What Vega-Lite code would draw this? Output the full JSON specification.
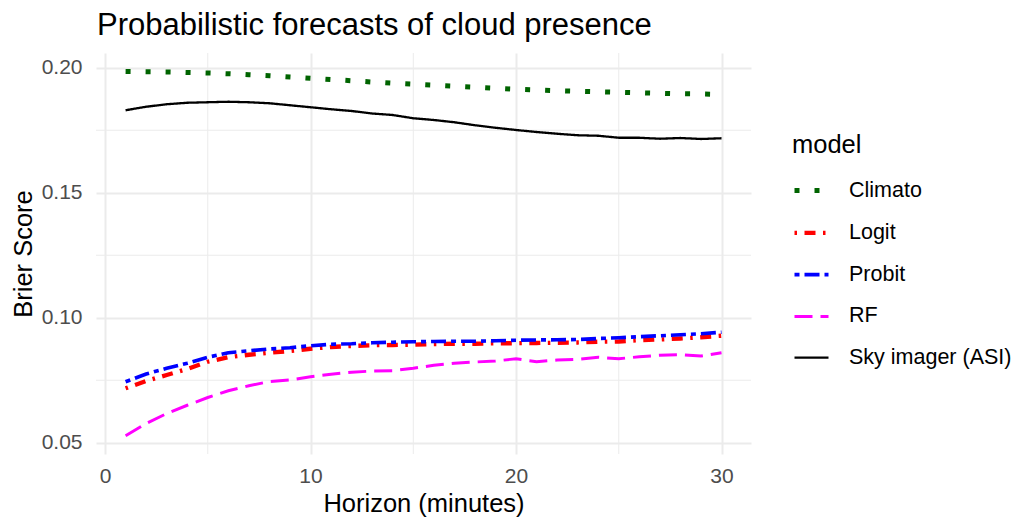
{
  "$schema": "https://vega.github.io/schema/vega-lite/v6.json",
  "autosize": {"type": "none"},
  "width": 655,
  "height": 401,
  "padding": {"left": 96, "top": 53, "right": 262, "bottom": 63},
  "background": "white",
  "config": {
    "view": {"stroke": null},
    "font": "Liberation Sans",
    "axis": {"domain": false, "ticks": false, "gridColor": "#EBEBEB", "gridWidth": 2, "labelColor": "#4D4D4D", "labelFontSize": 21, "titleFontSize": 25.5, "titleFontWeight": "normal", "titleColor": "black"}
  },
  "title": {"text": "Probabilistic forecasts of cloud presence", "anchor": "start", "frame": "group", "fontSize": 31, "fontWeight": "normal", "color": "black", "baseline": "alphabetic", "offset": 20, "dx": 1, "dy": 33},
  "datasets": {
    "scores": [
      {"h": 1, "model": "Climato", "brier": 0.1985}, {"h": 2, "model": "Climato", "brier": 0.1984}, {"h": 3, "model": "Climato", "brier": 0.1983}, {"h": 4, "model": "Climato", "brier": 0.1981}, {"h": 5, "model": "Climato", "brier": 0.1979}, {"h": 6, "model": "Climato", "brier": 0.1976}, {"h": 7, "model": "Climato", "brier": 0.1972}, {"h": 8, "model": "Climato", "brier": 0.1968}, {"h": 9, "model": "Climato", "brier": 0.1963}, {"h": 10, "model": "Climato", "brier": 0.1958}, {"h": 11, "model": "Climato", "brier": 0.1953}, {"h": 12, "model": "Climato", "brier": 0.1948}, {"h": 13, "model": "Climato", "brier": 0.1943}, {"h": 14, "model": "Climato", "brier": 0.1938}, {"h": 15, "model": "Climato", "brier": 0.1934}, {"h": 16, "model": "Climato", "brier": 0.1930}, {"h": 17, "model": "Climato", "brier": 0.1926}, {"h": 18, "model": "Climato", "brier": 0.1922}, {"h": 19, "model": "Climato", "brier": 0.1918}, {"h": 20, "model": "Climato", "brier": 0.1914}, {"h": 21, "model": "Climato", "brier": 0.1911}, {"h": 22, "model": "Climato", "brier": 0.1908}, {"h": 23, "model": "Climato", "brier": 0.1906}, {"h": 24, "model": "Climato", "brier": 0.1904}, {"h": 25, "model": "Climato", "brier": 0.1902}, {"h": 26, "model": "Climato", "brier": 0.1900}, {"h": 27, "model": "Climato", "brier": 0.1898}, {"h": 28, "model": "Climato", "brier": 0.1896}, {"h": 29, "model": "Climato", "brier": 0.1895}, {"h": 30, "model": "Climato", "brier": 0.1893},
      {"h": 1, "model": "Logit", "brier": 0.0718}, {"h": 2, "model": "Logit", "brier": 0.0747}, {"h": 3, "model": "Logit", "brier": 0.0771}, {"h": 4, "model": "Logit", "brier": 0.0795}, {"h": 5, "model": "Logit", "brier": 0.0824}, {"h": 6, "model": "Logit", "brier": 0.0842}, {"h": 7, "model": "Logit", "brier": 0.0852}, {"h": 8, "model": "Logit", "brier": 0.0860}, {"h": 9, "model": "Logit", "brier": 0.0867}, {"h": 10, "model": "Logit", "brier": 0.0876}, {"h": 11, "model": "Logit", "brier": 0.0883}, {"h": 12, "model": "Logit", "brier": 0.0887}, {"h": 13, "model": "Logit", "brier": 0.0890}, {"h": 14, "model": "Logit", "brier": 0.0891}, {"h": 15, "model": "Logit", "brier": 0.0892}, {"h": 16, "model": "Logit", "brier": 0.0895}, {"h": 17, "model": "Logit", "brier": 0.0896}, {"h": 18, "model": "Logit", "brier": 0.0896}, {"h": 19, "model": "Logit", "brier": 0.0898}, {"h": 20, "model": "Logit", "brier": 0.0898}, {"h": 21, "model": "Logit", "brier": 0.0899}, {"h": 22, "model": "Logit", "brier": 0.0900}, {"h": 23, "model": "Logit", "brier": 0.0901}, {"h": 24, "model": "Logit", "brier": 0.0904}, {"h": 25, "model": "Logit", "brier": 0.0905}, {"h": 26, "model": "Logit", "brier": 0.0910}, {"h": 27, "model": "Logit", "brier": 0.0913}, {"h": 28, "model": "Logit", "brier": 0.0917}, {"h": 29, "model": "Logit", "brier": 0.0922}, {"h": 30, "model": "Logit", "brier": 0.0928},
      {"h": 1, "model": "Probit", "brier": 0.0744}, {"h": 2, "model": "Probit", "brier": 0.0775}, {"h": 3, "model": "Probit", "brier": 0.0798}, {"h": 4, "model": "Probit", "brier": 0.0818}, {"h": 5, "model": "Probit", "brier": 0.0842}, {"h": 6, "model": "Probit", "brier": 0.0860}, {"h": 7, "model": "Probit", "brier": 0.0868}, {"h": 8, "model": "Probit", "brier": 0.0875}, {"h": 9, "model": "Probit", "brier": 0.0880}, {"h": 10, "model": "Probit", "brier": 0.0888}, {"h": 11, "model": "Probit", "brier": 0.0894}, {"h": 12, "model": "Probit", "brier": 0.0896}, {"h": 13, "model": "Probit", "brier": 0.0900}, {"h": 14, "model": "Probit", "brier": 0.0902}, {"h": 15, "model": "Probit", "brier": 0.0904}, {"h": 16, "model": "Probit", "brier": 0.0905}, {"h": 17, "model": "Probit", "brier": 0.0906}, {"h": 18, "model": "Probit", "brier": 0.0906}, {"h": 19, "model": "Probit", "brier": 0.0908}, {"h": 20, "model": "Probit", "brier": 0.0910}, {"h": 21, "model": "Probit", "brier": 0.0911}, {"h": 22, "model": "Probit", "brier": 0.0912}, {"h": 23, "model": "Probit", "brier": 0.0913}, {"h": 24, "model": "Probit", "brier": 0.0917}, {"h": 25, "model": "Probit", "brier": 0.0920}, {"h": 26, "model": "Probit", "brier": 0.0924}, {"h": 27, "model": "Probit", "brier": 0.0928}, {"h": 28, "model": "Probit", "brier": 0.0932}, {"h": 29, "model": "Probit", "brier": 0.0936}, {"h": 30, "model": "Probit", "brier": 0.0942},
      {"h": 1, "model": "RF", "brier": 0.0528}, {"h": 2, "model": "RF", "brier": 0.0577}, {"h": 3, "model": "RF", "brier": 0.0617}, {"h": 4, "model": "RF", "brier": 0.0650}, {"h": 5, "model": "RF", "brier": 0.0681}, {"h": 6, "model": "RF", "brier": 0.0708}, {"h": 7, "model": "RF", "brier": 0.0728}, {"h": 8, "model": "RF", "brier": 0.0745}, {"h": 9, "model": "RF", "brier": 0.0751}, {"h": 10, "model": "RF", "brier": 0.0764}, {"h": 11, "model": "RF", "brier": 0.0774}, {"h": 12, "model": "RF", "brier": 0.0782}, {"h": 13, "model": "RF", "brier": 0.0787}, {"h": 14, "model": "RF", "brier": 0.0788}, {"h": 15, "model": "RF", "brier": 0.0798}, {"h": 16, "model": "RF", "brier": 0.0810}, {"h": 17, "model": "RF", "brier": 0.0818}, {"h": 18, "model": "RF", "brier": 0.0823}, {"h": 19, "model": "RF", "brier": 0.0827}, {"h": 20, "model": "RF", "brier": 0.0836}, {"h": 21, "model": "RF", "brier": 0.0824}, {"h": 22, "model": "RF", "brier": 0.0831}, {"h": 23, "model": "RF", "brier": 0.0834}, {"h": 24, "model": "RF", "brier": 0.0842}, {"h": 25, "model": "RF", "brier": 0.0836}, {"h": 26, "model": "RF", "brier": 0.0844}, {"h": 27, "model": "RF", "brier": 0.0850}, {"h": 28, "model": "RF", "brier": 0.0852}, {"h": 29, "model": "RF", "brier": 0.0847}, {"h": 30, "model": "RF", "brier": 0.0860},
      {"h": 1, "model": "Sky imager (ASI)", "brier": 0.1830}, {"h": 2, "model": "Sky imager (ASI)", "brier": 0.1844}, {"h": 3, "model": "Sky imager (ASI)", "brier": 0.1854}, {"h": 4, "model": "Sky imager (ASI)", "brier": 0.1860}, {"h": 5, "model": "Sky imager (ASI)", "brier": 0.1862}, {"h": 6, "model": "Sky imager (ASI)", "brier": 0.1864}, {"h": 7, "model": "Sky imager (ASI)", "brier": 0.1862}, {"h": 8, "model": "Sky imager (ASI)", "brier": 0.1858}, {"h": 9, "model": "Sky imager (ASI)", "brier": 0.1850}, {"h": 10, "model": "Sky imager (ASI)", "brier": 0.1842}, {"h": 11, "model": "Sky imager (ASI)", "brier": 0.1834}, {"h": 12, "model": "Sky imager (ASI)", "brier": 0.1827}, {"h": 13, "model": "Sky imager (ASI)", "brier": 0.1817}, {"h": 14, "model": "Sky imager (ASI)", "brier": 0.1811}, {"h": 15, "model": "Sky imager (ASI)", "brier": 0.1798}, {"h": 16, "model": "Sky imager (ASI)", "brier": 0.1791}, {"h": 17, "model": "Sky imager (ASI)", "brier": 0.1782}, {"h": 18, "model": "Sky imager (ASI)", "brier": 0.1770}, {"h": 19, "model": "Sky imager (ASI)", "brier": 0.1760}, {"h": 20, "model": "Sky imager (ASI)", "brier": 0.1751}, {"h": 21, "model": "Sky imager (ASI)", "brier": 0.1743}, {"h": 22, "model": "Sky imager (ASI)", "brier": 0.1736}, {"h": 23, "model": "Sky imager (ASI)", "brier": 0.1730}, {"h": 24, "model": "Sky imager (ASI)", "brier": 0.1728}, {"h": 25, "model": "Sky imager (ASI)", "brier": 0.1720}, {"h": 26, "model": "Sky imager (ASI)", "brier": 0.1720}, {"h": 27, "model": "Sky imager (ASI)", "brier": 0.1716}, {"h": 28, "model": "Sky imager (ASI)", "brier": 0.1719}, {"h": 29, "model": "Sky imager (ASI)", "brier": 0.1715}, {"h": 30, "model": "Sky imager (ASI)", "brier": 0.1718}
    ],
    "minorX": [{"v": 5}, {"v": 15}, {"v": 25}],
    "minorY": [{"v": 0.075}, {"v": 0.125}, {"v": 0.175}]
  },
  "layer": [
    {
      "data": {"name": "minorX"},
      "mark": {"type": "rule", "color": "#EBEBEB", "strokeWidth": 1},
      "encoding": {"x": {"field": "v", "type": "quantitative", "scale": {"domain": [-0.44, 31.435], "nice": false, "zero": false}}}
    },
    {
      "data": {"name": "minorY"},
      "mark": {"type": "rule", "color": "#EBEBEB", "strokeWidth": 1},
      "encoding": {"y": {"field": "v", "type": "quantitative", "scale": {"domain": [0.0455, 0.2059], "nice": false, "zero": false}}}
    },
    {
      "data": {"name": "scores"},
      "mark": {"type": "line", "strokeCap": "butt"},
      "encoding": {
        "x": {"field": "h", "type": "quantitative", "scale": {"domain": [-0.44, 31.435], "nice": false, "zero": false},
          "axis": {"values": [0, 10, 20, 30], "title": "Horizon (minutes)", "labelPadding": 11, "titleY": 57.5, "titleBaseline": "alphabetic"}},
        "y": {"field": "brier", "type": "quantitative", "scale": {"domain": [0.0455, 0.2059], "nice": false, "zero": false},
          "axis": {"values": [0.05, 0.10, 0.15, 0.20], "format": ".2f", "title": "Brier Score", "labelPadding": 14, "titleX": -65, "titleBaseline": "alphabetic"}},
        "color": {"field": "model", "type": "nominal", "title": "model",
          "scale": {"domain": ["Climato", "Logit", "Probit", "RF", "Sky imager (ASI)"], "range": ["#006400", "#FF0000", "#0000FF", "#FF00FF", "#000000"]},
          "legend": {"orient": "none", "legendX": 696, "legendY": 79.5, "padding": 0, "symbolType": "stroke", "symbolSize": 1156, "labelOffset": 18, "labelFontSize": 21.5, "labelLimit": 300, "labelColor": "black", "titleFontSize": 25.5, "titleFontWeight": "normal", "titleColor": "black", "titlePadding": 13, "rowPadding": 12.3, "symbolOffset": 0}},
        "strokeDash": {"field": "model", "type": "nominal", "title": "model",
          "scale": {"domain": ["Climato", "Logit", "Probit", "RF", "Sky imager (ASI)"], "range": [[5, 15], [2.5, 7.5, 11, 7.5], [5, 5, 15, 5], [18, 8], [1, 0]]}},
        "strokeWidth": {"field": "model", "type": "nominal", "title": "model",
          "scale": {"domain": ["Climato", "Logit", "Probit", "RF", "Sky imager (ASI)"], "range": [5, 2.3, 2.3, 2.3, 2.3]}}
      }
    }
  ]
}
